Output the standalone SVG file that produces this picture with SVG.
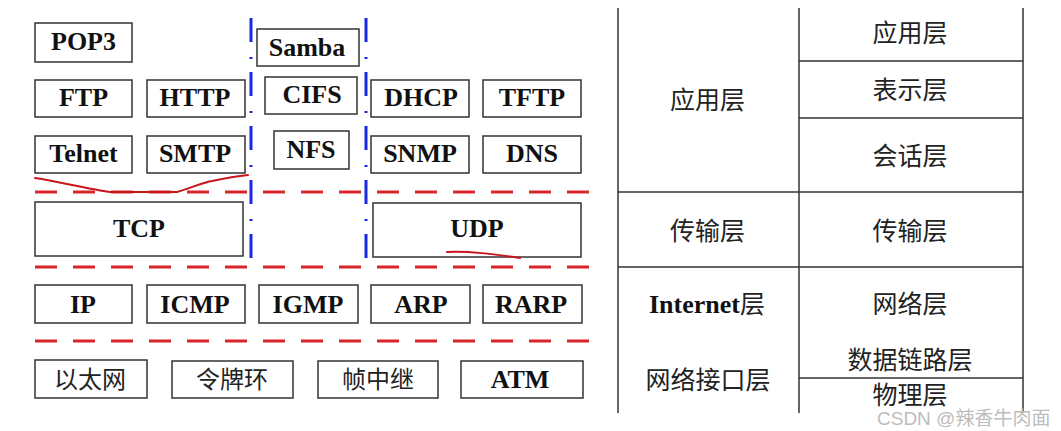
<svg xmlns="http://www.w3.org/2000/svg" width="1061" height="431" viewBox="0 0 1061 431">
<style>
.box{fill:#fff;stroke:#333;stroke-width:1.5}
.en{font-family:"Liberation Serif",serif;font-weight:bold;font-size:26px;fill:#111;text-anchor:middle}
.cn{font-family:"Noto Sans CJK SC",sans-serif;font-size:24px;fill:#222;text-anchor:middle}
.tcn{font-family:"Noto Sans CJK SC",sans-serif;font-size:25px;fill:#222;text-anchor:middle}
.red{stroke:#d8262a;stroke-width:3;stroke-dasharray:22 16;fill:none}
.blue{stroke:#1a28e6;stroke-width:3;stroke-dasharray:24 15 2 13;fill:none}
.scrib{stroke:#c8161d;stroke-width:2;fill:none;stroke-linecap:round}
.tl{stroke:#333;stroke-width:1.5;fill:none}
</style>
<rect width="1061" height="431" fill="#fff"/>

<g id="connectors">
  <line class="red" x1="35" y1="192" x2="590" y2="192"/>
  <line class="red" x1="35" y1="267" x2="590" y2="267"/>
  <line class="red" x1="35" y1="341" x2="590" y2="341"/>
  <line class="blue" x1="251" y1="18" x2="251" y2="258"/>
  <line class="blue" x1="366" y1="18" x2="366" y2="258"/>
</g>

<g id="POP3"><rect class="box" x="35" y="23" width="97" height="39"/><text class="en" x="83.5" y="50">POP3</text></g>
<g id="FTP"><rect class="box" x="35" y="80" width="97" height="37"/><text class="en" x="83.5" y="106">FTP</text></g>
<g id="HTTP"><rect class="box" x="147" y="80" width="98" height="37"/><text class="en" x="195" y="106">HTTP</text></g>
<g id="Telnet"><rect class="box" x="35" y="136" width="97" height="37"/><text class="en" x="83.5" y="162">Telnet</text></g>
<g id="SMTP"><rect class="box" x="147" y="136" width="98" height="37"/><text class="en" x="195" y="162">SMTP</text></g>
<g id="Samba"><rect class="box" x="257" y="29" width="102" height="37"/><text class="en" x="307" y="56">Samba</text></g>
<g id="CIFS"><rect class="box" x="265" y="77" width="92" height="37"/><text class="en" x="312" y="103">CIFS</text></g>
<g id="NFS"><rect class="box" x="274" y="131" width="75" height="38"/><text class="en" x="311" y="158">NFS</text></g>
<g id="DHCP"><rect class="box" x="371" y="80" width="98" height="37"/><text class="en" x="421" y="106">DHCP</text></g>
<g id="TFTP"><rect class="box" x="483" y="80" width="98" height="37"/><text class="en" x="532" y="106">TFTP</text></g>
<g id="SNMP"><rect class="box" x="371" y="136" width="98" height="37"/><text class="en" x="420" y="162">SNMP</text></g>
<g id="DNS"><rect class="box" x="483" y="136" width="98" height="37"/><text class="en" x="532" y="162">DNS</text></g>

<g id="TCP"><rect class="box" x="35" y="202" width="208" height="54"/><text class="en" x="139" y="237">TCP</text></g>
<g id="UDP"><rect class="box" x="373" y="203" width="208" height="54"/><text class="en" x="477" y="237">UDP</text></g>

<g id="IP"><rect class="box" x="35" y="285" width="97" height="38"/><text class="en" x="83" y="313">IP</text></g>
<g id="ICMP"><rect class="box" x="147" y="285" width="98" height="38"/><text class="en" x="195" y="313">ICMP</text></g>
<g id="IGMP"><rect class="box" x="259" y="285" width="99" height="38"/><text class="en" x="308" y="313">IGMP</text></g>
<g id="ARP"><rect class="box" x="371" y="285" width="99" height="38"/><text class="en" x="421" y="313">ARP</text></g>
<g id="RARP"><rect class="box" x="483" y="285" width="99" height="38"/><text class="en" x="531" y="313">RARP</text></g>

<g id="Ethernet"><rect class="box" x="35" y="360" width="112" height="38"/><text class="cn" x="90" y="388">以太网</text></g>
<g id="TokenRing"><rect class="box" x="172" y="361" width="121" height="37"/><text class="cn" x="232" y="388">令牌环</text></g>
<g id="FrameRelay"><rect class="box" x="318" y="361" width="120" height="37"/><text class="cn" x="378" y="388">帧中继</text></g>
<g id="ATM"><rect class="box" x="461" y="361" width="122" height="37"/><text class="en" x="520" y="388">ATM</text></g>

<g id="annotations">
  <path class="scrib" d="M35,178 C60,182 88,189 110,192 L177,192 C192,188 200,183 212,181 C226,178 238,176 248,175"/>
  <path class="scrib" d="M447,252 C470,251 492,254 520,258"/>
</g>

<g id="osi-table">
  <line class="tl" x1="618" y1="8" x2="618" y2="413"/>
  <line class="tl" x1="799" y1="8" x2="799" y2="413"/>
  <line class="tl" x1="1023" y1="8" x2="1023" y2="413"/>
  <line class="tl" x1="799" y1="61" x2="1023" y2="61"/>
  <line class="tl" x1="799" y1="118" x2="1023" y2="118"/>
  <line class="tl" x1="618" y1="192" x2="1023" y2="192"/>
  <line class="tl" x1="618" y1="267" x2="1023" y2="267"/>
  <line class="tl" x1="799" y1="378" x2="1023" y2="378"/>
  <text class="tcn" x="910" y="41.5">应用层</text>
  <text class="tcn" x="910" y="98.5">表示层</text>
  <text class="tcn" x="910" y="164.5">会话层</text>
  <text class="tcn" x="707.5" y="108.5">应用层</text>
  <text class="tcn" x="707.5" y="239.5">传输层</text>
  <text class="tcn" x="910" y="239.5">传输层</text>
  <text x="707" y="313" style="text-anchor:middle"><tspan style="font-family:'Liberation Serif',serif;font-weight:bold;font-size:26px;fill:#111">Internet</tspan><tspan style="font-family:'Noto Sans CJK SC',sans-serif;font-size:25px;fill:#222">层</tspan></text>
  <text class="tcn" x="910" y="312.5">网络层</text>
  <text class="tcn" x="910" y="368.5">数据链路层</text>
  <text class="tcn" x="910" y="404">物理层</text>
  <text class="tcn" x="708" y="388.5">网络接口层</text>
</g>

<text x="877" y="425" style="font-family:'Liberation Sans','Noto Sans CJK SC',sans-serif;font-size:19px;fill:#bdbdbd">CSDN @辣香牛肉面</text>
</svg>
